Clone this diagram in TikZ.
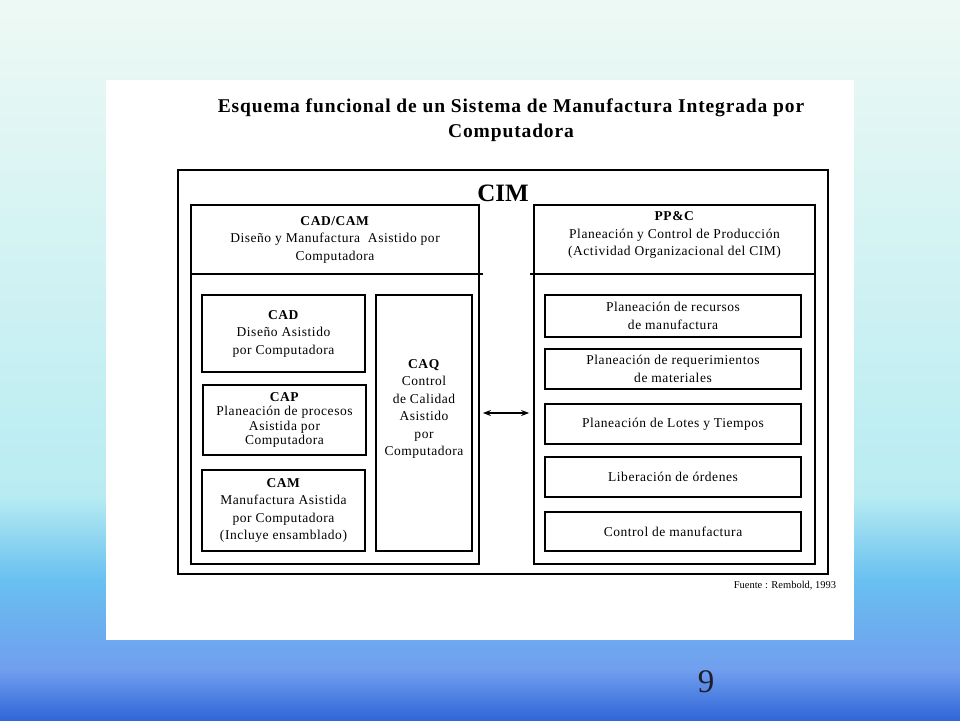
\documentclass[tikz,border=0pt]{standalone}
\usepackage{fontspec}
\setmainfont{Liberation Serif}
\usepackage{tikz}
\usetikzlibrary{
    positioning,
    arrows.meta
}
\definecolor{BgMint}{HTML}{EEF9F4}
\definecolor{BgCyan}{HTML}{B8ECF2}
\definecolor{BgSky}{HTML}{68C0F0}
\definecolor{BgBlue}{HTML}{709EEE}
\definecolor{BgDeep}{HTML}{3066D8}
\definecolor{NumInk}{HTML}{1E1E2E}
\newcommand{\boxfont}{\addfontfeature{LetterSpace=4}\fontsize{13.5}{17.5}\selectfont}
\newcommand{\tightfont}{\addfontfeature{LetterSpace=4}\fontsize{13.5}{14.5}\selectfont}

\begin{document}
\begin{tikzpicture}[x=1pt, y=-1pt,
    frame/.style={rectangle, draw, line width=1.8pt, inner sep=0pt},
    block/.style={rectangle, draw, line width=1.5pt, align=center, font=\boxfont, inner sep=0pt},
    txt/.style={align=center, font=\boxfont, inner sep=0pt},
    link/.style={line width=1.3pt, {Stealth[length=8pt,width=6pt]}-{Stealth[length=8pt,width=6pt]}},
]
% background
\useasboundingbox (0,0) rectangle (960,720);
\shade[top color=BgMint, bottom color=BgCyan] (0,0) rectangle (960,495.5);
\shade[top color=BgCyan, bottom color=BgSky] (0,495) rectangle (960,580.5);
\shade[top color=BgSky, bottom color=BgBlue] (0,580) rectangle (960,670.5);
\shade[top color=BgBlue, bottom color=BgDeep] (0,670) rectangle (960,720);
\fill[white] (106,80) rectangle (854,640);

\node[txt, font=\addfontfeature{LetterSpace=4.5}\fontsize{19.5}{25}\selectfont\bfseries] (title) at (511,120)
  {Esquema funcional de un Sistema de Manufactura Integrada por\\Computadora};

\node[frame, minimum width=650pt, minimum height=404pt] (cim) at (503,372) {};
\node[txt, font=\fontsize{25}{28}\selectfont\bfseries] (cimlbl) at (503,193) {CIM};

\node[frame, minimum width=288pt, minimum height=359pt] (leftbox) at (335,384.5) {};
\node[frame, minimum width=281pt, minimum height=359pt] (rightbox) at (674.5,384.5) {};

\node[txt] (cadcam) at (335,239.5)
  {\textbf{CAD/CAM}\\Diseño y Manufactura \ Asistido por\\Computadora};
\node[txt] (ppc) at (674.5,235)
  {\textbf{PP\&C}\\Planeación y Control de Producción\\(Actividad Organizacional del CIM)};
\draw[line width=1.8pt] ([yshift=-70pt]leftbox.north west) -- ([xshift=3pt,yshift=-70pt]leftbox.north east);
\draw[line width=1.8pt] ([xshift=-3pt,yshift=-70pt]rightbox.north west) -- ([yshift=-70pt]rightbox.north east);

% CAD/CAM side
\node[block, minimum width=163pt, minimum height=77pt] (cad) at (283.5,333.5)
  {\textbf{CAD}\\Diseño Asistido\\por Computadora};
\node[block, font=\tightfont, minimum width=163pt, minimum height=70pt] (cap) at (284.5,420)
  {\textbf{CAP}\\Planeación de procesos\\Asistida por\\Computadora};
\node[block, minimum width=163pt, minimum height=81pt] (cam) at (283.5,510.5)
  {\textbf{CAM}\\Manufactura Asistida\\por Computadora\\(Incluye ensamblado)};
\node[block, minimum width=96pt, minimum height=256pt] (caq) at (424,423) {};
\node[txt] (caqlbl) at (424,409)
  {\textbf{CAQ}\\Control\\de Calidad\\Asistido\\por\\Computadora};

% PP&C side
\node[block, minimum width=256pt, minimum height=42pt] (recursos) at (673,316)
  {Planeación de recursos\\de manufactura};
\node[block, minimum width=256pt, minimum height=40pt] (materiales) at (673,369)
  {Planeación de requerimientos\\de materiales};
\node[block, minimum width=256pt, minimum height=40pt] (lotes) at (673,424)
  {Planeación de Lotes y Tiempos};
\node[block, minimum width=256pt, minimum height=40pt] (ordenes) at (673,477)
  {Liberación de órdenes};
\node[block, minimum width=256pt, minimum height=39pt] (control) at (673,531.5)
  {Control de manufactura};

% link
\draw[link] ([xshift=3pt,yshift=-28.5pt]leftbox.east) -- ([xshift=-4pt,yshift=-28.5pt]rightbox.west);

\node[txt, font=\fontsize{10.5}{12}\selectfont] (fuente) at (785,586) {Fuente : Rembold, 1993};
\node[txt, font=\fontsize{33}{36}\selectfont, text=NumInk] (pagenum) at (706,682) {9};
\end{tikzpicture}
\end{document}
